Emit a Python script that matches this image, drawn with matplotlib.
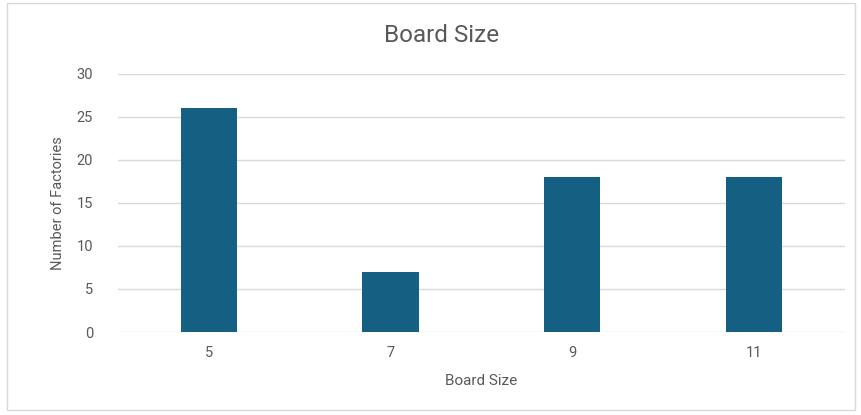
import matplotlib.pyplot as plt
from matplotlib.patches import Rectangle

# Data
board_sizes = ["5", "7", "9", "11"]
factories = [26, 7, 18, 18]
y_ticks = [0, 5, 10, 15, 20, 25, 30]

BAR_COLOR = "#156082"
GRID_COLOR = "#d9d9d9"
TEXT_COLOR = "#595959"

plt.rcParams['font.family'] = ['Roboto', 'DejaVu Sans']

fig = plt.figure(figsize=(8.62, 4.15), dpi=100)
ax = fig.add_axes([0.137, 0.2, 0.843, 0.622])

positions = range(len(board_sizes))
ax.bar(positions, factories, width=0.31, color=BAR_COLOR, zorder=3)

ax.set_xlim(-0.5, len(board_sizes) - 0.5)
ax.set_ylim(0, 30)
ax.set_yticks(y_ticks)
ax.set_xticks(list(positions))
ax.set_xticklabels(board_sizes)

ax.grid(axis='y', color=GRID_COLOR, linewidth=1, zorder=0)
for side in ['top', 'right', 'left', 'bottom']:
    ax.spines[side].set_visible(False)
ax.tick_params(axis='both', length=0, colors=TEXT_COLOR, labelsize=10.5)
ax.tick_params(axis='y', pad=18)
ax.tick_params(axis='x', pad=10)

# title sits centred on the whole chart area, as in Excel
fig.text(0.512, 0.915, 'Board Size', fontsize=17.5, color=TEXT_COLOR,
         ha='center', va='center')
ax.set_xlabel('Board Size', fontsize=11, color=TEXT_COLOR, labelpad=10)
ax.set_ylabel('Number of Factories', fontsize=10.5, color=TEXT_COLOR,
              labelpad=8)

# light chart border like the Excel chart area
fig.patches.append(Rectangle((0.008, 0.012), 0.984, 0.98, transform=fig.transFigure,
                             fill=False, edgecolor='#d9d9d9', linewidth=1))

plt.savefig('out.png', dpi=100)
